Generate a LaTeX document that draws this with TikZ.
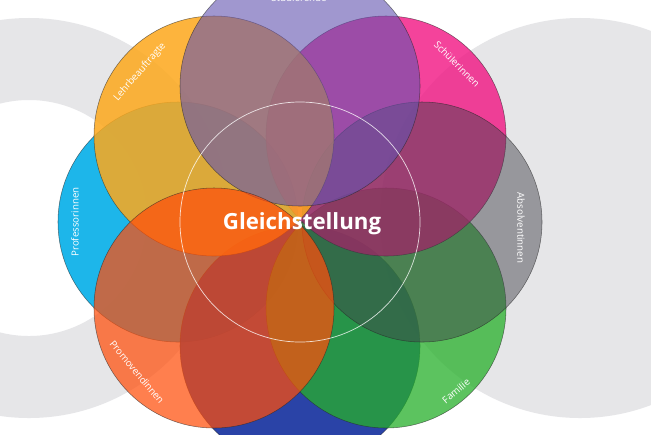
\documentclass[tikz,border=0pt]{standalone}
\usepackage{fontspec}
\setmainfont{Open Sans}
\definecolor{cP}{RGB}{5,175,232}
\definecolor{cB}{RGB}{19,47,158}
\definecolor{cF}{RGB}{38,176,42}
\definecolor{cA}{RGB}{65,65,75}
\definecolor{cSch}{RGB}{241,15,128}
\definecolor{cL}{RGB}{253,168,28}
\definecolor{cS}{RGB}{98,82,175}
\definecolor{cPr}{RGB}{255,78,11}
\definecolor{bgray}{RGB}{230,230,232}
\begin{document}
\begin{tikzpicture}[x=0.03cm,y=-0.03cm,
  disc/.style={line width=0.45pt, draw=black!85, draw opacity=0.6},
  lbl/.style={text=white, font=\fontsize{8.3}{10}\selectfont, inner sep=0pt},
  title/.style={text=white, font=\bfseries\fontsize{19}{22}\selectfont, inner sep=0pt}]
\useasboundingbox (0,0) rectangle (651,434);
\clip (0,0) rectangle (651,434);
\fill[white] (0,0) rectangle (651,434);
% background grey shapes
\fill[bgray, even odd rule] (29,218) circle[radius=6cm] (29,218) circle[radius=3.54cm];
\fill[bgray] (580,218) circle[radius=6cm];
% circle centres
\coordinate (oC) at (300,222);
\coordinate (oS) at (300,86);
\coordinate (oSch) at (386,136);
\coordinate (oA) at (422,222);
\coordinate (oF) at (386,308);
\coordinate (oB) at (300,346);
\coordinate (oPr) at (214,308);
\coordinate (oP) at (178,222);
\coordinate (oL) at (214,136);
% circles
\path[disc, fill=cP, fill opacity=0.9] (oP) circle[radius=3.6cm];
\path[disc, fill=cB, fill opacity=0.9] (oB) circle[radius=3.6cm];
\path[disc, fill=cF, fill opacity=0.75] (oF) circle[radius=3.6cm];
\path[disc, fill=cSch, fill opacity=0.78] (oSch) circle[radius=3.6cm];
\path[disc, fill=cA, fill opacity=0.48] (oA) circle[radius=3.6cm];
\path[disc, fill=cL, fill opacity=0.85] (oL) circle[radius=3.6cm];
\path[disc, fill=cS, fill opacity=0.6] (oS) circle[radius=3.6cm];
\path[disc, fill=cPr, fill opacity=0.72] (oPr) circle[radius=3.6cm];
% central white ring
\draw[white, line width=0.6pt, opacity=0.8] (oC) circle[radius=3.6cm];
% labels
\node[lbl] (tS) at (299,-2.5) {Studierende};
\node[lbl, rotate=-45] (tSch) at (457,64) {Schülerinnen};
\node[lbl, rotate=-90] (tA) at (521,228) {Absolventinnen};
\node[lbl, rotate=40] (tF) at (456,391) {Familie};
\node[lbl, rotate=-50] (tPr) at (137,372) {Promovendinnen};
\node[lbl, rotate=90] (tP) at (75,222) {Professorinnen};
\node[lbl, rotate=49] (tL) at (140,72) {Lehrbeauftragte};
\node[title] (tC) at (302,224) {Gleichstellung};
\end{tikzpicture}
\end{document}
